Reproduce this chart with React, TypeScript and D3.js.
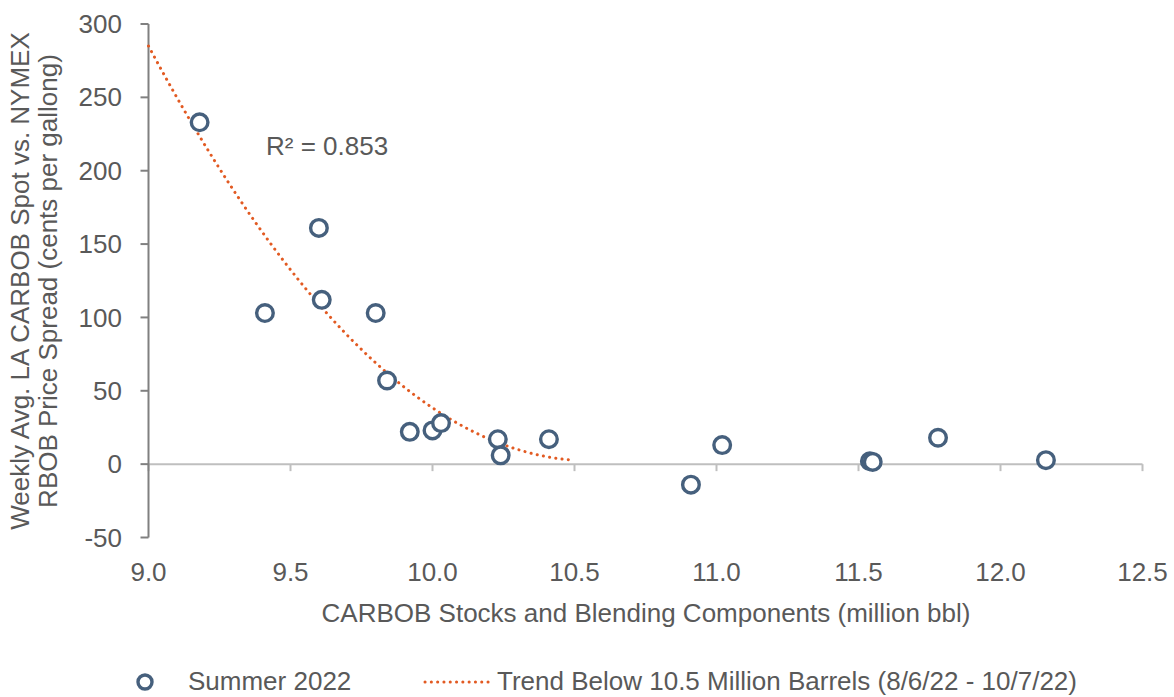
import * as d3 from 'd3';

// Summer 2022 weekly observations
const stocks = [9.18, 9.41, 9.6, 9.61, 9.8, 9.84, 9.92, 10.0, 10.03, 10.23, 10.24, 10.41, 10.91, 11.02, 11.54, 11.55, 11.78, 12.16];
const spread = [233, 103, 161, 112, 103, 57, 22, 23, 28, 17, 6, 17, -14, 13, 2, 1.5, 18, 2.7];

const xTicks = [9.0, 9.5, 10.0, 10.5, 11.0, 11.5, 12.0, 12.5];
const yTicks = [-50, 0, 50, 100, 150, 200, 250, 300];

const trendCutoff = 10.5;
const r2Label = 'R² = 0.853';
const seriesLabel = 'Summer 2022';
const trendLabel = 'Trend Below 10.5 Million Barrels (8/6/22 - 10/7/22)';
const xTitle = 'CARBOB Stocks and Blending Components (million bbl)';
const yTitle = ['Weekly Avg. LA CARBOB Spot vs. NYMEX', 'RBOB Price Spread (cents per gallong)'];

const W = 1174;
const H = 697;
const TEXT = '#595959';
const MARKER = '#46607D';
const TREND = '#E25A22';
const FONT = '"Liberation Sans", Arial, sans-serif';
const FS = 26;

// least squares fit y = c0 + c1*x + c2*x^2 on points below the cutoff
function quadFit(xs: number[], ys: number[]) {
  const s = new Array(5).fill(0);
  const t = new Array(3).fill(0);
  xs.forEach((x, i) => {
    for (let k = 0; k < 5; k++) s[k] += Math.pow(x, k);
    for (let k = 0; k < 3; k++) t[k] += Math.pow(x, k) * ys[i];
  });
  const m = [
    [s[0], s[1], s[2], t[0]],
    [s[1], s[2], s[3], t[1]],
    [s[2], s[3], s[4], t[2]],
  ];
  for (let i = 0; i < 3; i++) {
    for (let j = i + 1; j < 3; j++) {
      const f = m[j][i] / m[i][i];
      for (let k = i; k < 4; k++) m[j][k] -= f * m[i][k];
    }
  }
  const c = [0, 0, 0];
  for (let i = 2; i >= 0; i--) {
    let v = m[i][3];
    for (let k = i + 1; k < 3; k++) v -= m[i][k] * c[k];
    c[i] = v / m[i][i];
  }
  return c;
}

export default function App() {
  const x = d3.scaleLinear().domain([9.0, 12.5]).range([148.5, 1142.5]);
  const y = d3.scaleLinear().domain([-50, 300]).range([537.5, 24]);

  const fx: number[] = [];
  const fy: number[] = [];
  stocks.forEach((s, i) => {
    if (s < trendCutoff) {
      fx.push(s);
      fy.push(spread[i]);
    }
  });
  const c = quadFit(fx, fy);
  const trendPts = d3.range(9.0, trendCutoff + 0.0001, 0.02).map((v) => [v, c[0] + c[1] * v + c[2] * v * v] as [number, number]);
  const line = d3
    .line<[number, number]>()
    .x((d) => x(d[0]))
    .y((d) => y(d[1]));

  return (
    <svg width={W} height={H} style={{ position: 'absolute', left: 0, top: 0, background: '#fff' }} fontFamily={FONT}>
      {/* zero axis */}
      <line x1={x(9.0)} x2={x(12.5)} y1={y(0)} y2={y(0)} stroke="#BFBFBF" strokeWidth={2} />
      {xTicks.map((t) => (
        <line key={'xt' + t} x1={x(t)} x2={x(t)} y1={y(0)} y2={y(0) + 7} stroke="#BFBFBF" strokeWidth={2} />
      ))}
      {/* y axis */}
      <line x1={x(9.0)} x2={x(9.0)} y1={y(300)} y2={y(-50)} stroke="#808080" strokeWidth={2} />
      {yTicks.map((t) => (
        <line key={'yt' + t} x1={x(9.0) - 8} x2={x(9.0)} y1={y(t)} y2={y(t)} stroke="#808080" strokeWidth={2} />
      ))}
      {yTicks.map((t) => (
        <text key={'yl' + t} x={122} y={y(t)} dy="0.35em" textAnchor="end" fontSize={FS} fill={TEXT}>
          {t}
        </text>
      ))}
      {xTicks.map((t) => (
        <text key={'xl' + t} x={x(t)} y={581} textAnchor="middle" fontSize={FS} fill={TEXT}>
          {d3.format('.1f')(t)}
        </text>
      ))}
      {/* trend */}
      <path d={line(trendPts) ?? ''} fill="none" stroke={TREND} strokeWidth={3} strokeDasharray="0.1 6.2" strokeLinecap="round" />
      {/* points */}
      {stocks.map((s, i) => (
        <circle key={'p' + i} cx={x(s)} cy={y(spread[i])} r={8.3} fill="#fff" stroke={MARKER} strokeWidth={3.4} />
      ))}
      <text x={266} y={155} fontSize={FS} fill={TEXT}>
        {r2Label}
      </text>
      {/* titles */}
      <text x={646} y={622} textAnchor="middle" fontSize={FS} fill={TEXT}>
        {xTitle}
      </text>
      {yTitle.map((l, i) => (
        <text key={'yt' + i} transform={`translate(${29 + i * 28},281) rotate(-90)`} textAnchor="middle" fontSize={FS} fill={TEXT}>
          {l}
        </text>
      ))}
      {/* legend */}
      <circle cx={145} cy={682} r={7} fill="#fff" stroke={MARKER} strokeWidth={3.4} />
      <text x={188} y={690} fontSize={FS} fill={TEXT}>
        {seriesLabel}
      </text>
      <line x1={425} x2={490} y1={682} y2={682} stroke={TREND} strokeWidth={3} strokeDasharray="0.1 6.2" strokeLinecap="round" />
      <text x={497} y={690} fontSize={FS} fill={TEXT}>
        {trendLabel}
      </text>
    </svg>
  );
}
